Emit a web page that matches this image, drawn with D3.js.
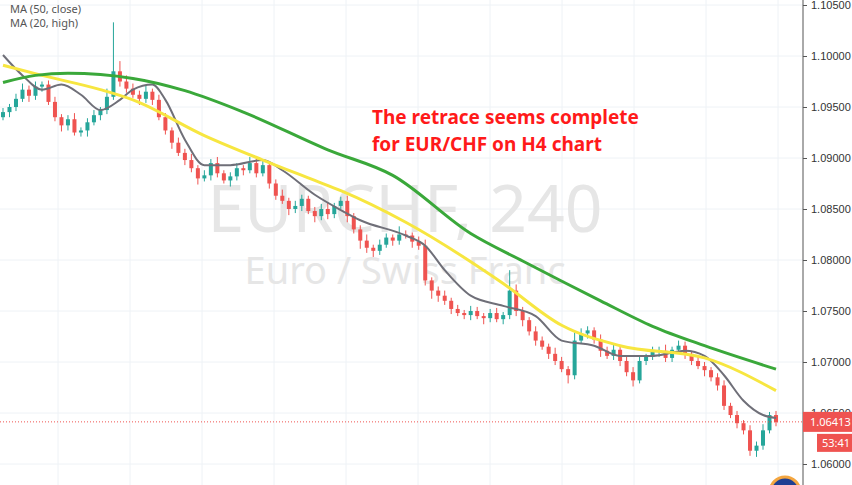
<!DOCTYPE html>
<html><head><meta charset="utf-8">
<script src="https://cdn.jsdelivr.net/npm/d3@7"></script>
<style>body{margin:0;background:#fff;font-family:"Noto Sans",sans-serif}</style>
</head><body>
<script>
// closes of the H4 candles, open = previous close
var firstOpen = 1.0940;
var closes = [
1.0945,1.0950,1.0958,1.0967,1.0961,1.0970,1.0972,1.0955,1.0940,1.0932,
1.0938,1.0925,1.0927,1.0935,1.0942,1.0947,1.0960,1.0985,1.0975,1.0968,
1.0962,1.0958,1.0965,1.0957,1.0940,1.0927,1.0915,1.0905,1.0898,1.0890,
1.0880,1.0883,1.0895,1.0885,1.0878,1.0882,1.0890,1.0888,1.0895,1.0885,
1.0893,1.0875,1.0863,1.0858,1.0850,1.0853,1.0860,1.0848,1.0843,1.0850,
1.0845,1.0853,1.0858,1.0843,1.0830,1.0819,1.0812,1.0809,1.0815,1.0822,
1.0819,1.0825,1.0824,1.0818,1.0814,1.0780,1.0770,1.0765,1.0760,1.0752,
1.0748,1.0746,1.0750,1.0745,1.0743,1.0748,1.0742,1.0746,1.0770,1.0750,
1.0741,1.0730,1.0721,1.0715,1.0708,1.0701,1.0693,1.0687,1.0721,1.0728,
1.0731,1.0722,1.0711,1.0706,1.0712,1.0701,1.0690,1.0682,1.0701,1.0705,
1.0710,1.0711,1.0704,1.0712,1.0716,1.0708,1.0701,1.0696,1.0692,1.0685,
1.0677,1.0657,1.0648,1.0640,1.0633,1.0613,1.0618,1.0633,1.0648,1.0641];
// wick lengths in pips
var upWick = [4,3,5,6,4,5,3,4,5,3, 4,6,3,4,5,3,8,48,10,6, 5,4,6,3,5,4,3,5,4,6, 3,5,4,6,3,4,5,3,6,4,
5,3,4,6,3,5,4,3,4,5, 6,3,4,5,3,4,6,3,5,4, 3,8,4,3,5,6,3,4,5,3, 4,3,5,4,3,4,5,3,20,6,
4,3,5,4,3,6,4,3,8,5, 4,3,5,4,6,3,4,5,4,3, 5,4,6,3,5,4,3,5,4,3, 4,5,3,4,3,5,4,6,3,4];
var dnWick = [3,5,4,3,6,4,5,3,4,6, 5,3,4,6,3,5,4,3,5,4, 3,6,4,5,3,4,6,3,5,4, 6,3,5,4,3,6,4,5,3,4,
3,5,4,3,6,4,5,3,6,4, 5,4,3,6,4,8,5,6,4,3, 5,4,3,6,4,5,8,6,4,5, 3,4,5,3,6,4,3,5,4,5,
6,4,5,3,5,4,3,8,4,3, 5,4,6,3,4,5,4,6,3,4, 3,5,4,4,3,5,4,3,6,4, 5,4,3,5,4,5,6,4,3,4];

// moving averages at candle indices
var maGreenIdx = [0,5,10,20,28,37,50,60,72,80,92,100,108,119];
var maGreen = [1.0974,1.0981,1.0983,1.0978,1.0966,1.0945,1.0908,1.0883,1.0826,1.0799,1.0760,1.0735,1.0716,1.0693];
var maYellowIdx = [0,6,15,20,31,40,48,52,62,77,86,95,108,119];
var maYellow = [1.0991,1.0981,1.0967,1.0957,1.0922,1.0898,1.0878,1.0868,1.0837,1.0777,1.0736,1.0716,1.0704,1.0672];
var maGrayIdx = [0,3,6,9,12,15,18,20,23,25,28,31,35,40,43,48,52,55,62,65,68,72,77,82,86,91,95,100,105,108,111,114,117,119];
var maGray = [1.1001,1.0981,1.0967,1.0972,1.0962,1.0947,1.0957,1.0967,1.0972,1.0957,1.0918,1.0893,1.0893,1.0898,1.0888,1.0864,1.0849,1.0839,1.0824,1.0814,1.0790,1.0765,1.0755,1.0745,1.0721,1.0716,1.0706,1.0706,1.0711,1.0706,1.0687,1.0662,1.0648,1.0645];

var priceTicks = [1.060,1.065,1.070,1.075,1.080,1.085,1.090,1.095,1.100,1.105];
var lastPrice = 1.06413;

var W = 852, H = 485, axisX = 803;
var svg = d3.select("body").append("svg").attr("width", W).attr("height", H);

var y = d3.scaleLinear().domain([1.060, 1.105]).range([464, 5]);
var x = d3.scaleLinear().domain([0, closes.length - 1]).range([3, 776]);

// grid
svg.selectAll(".hg").data(priceTicks).enter().append("line")
  .attr("x1", 0).attr("x2", axisX).attr("y1", function (d) { return y(d); }).attr("y2", function (d) { return y(d); })
  .style("stroke", "#eef2f6");
var vgrid = [58, 130, 202, 274, 346, 418, 490, 562, 634, 706, 778];
svg.selectAll(".vg").data(vgrid).enter().append("line")
  .attr("x1", function (d) { return d; }).attr("x2", function (d) { return d; }).attr("y1", 0).attr("y2", H)
  .style("stroke", "#eef2f6");

// watermark
svg.append("text").attr("x", 405).attr("y", 232).attr("text-anchor", "middle")
  .style("font-size", "66px").style("fill", "#e6e6e6").text("EURCHF, 240");
svg.append("text").attr("x", 405).attr("y", 284).attr("text-anchor", "middle")
  .style("font-size", "38px").style("fill", "#e6e6e6").text("Euro / Swiss Franc");

// candles
var candles = closes.map(function (c, i) {
  var o = i === 0 ? firstOpen : closes[i - 1];
  return { i: i, o: o, c: c, h: Math.max(o, c) + upWick[i] / 10000, l: Math.min(o, c) - dnWick[i] / 10000 };
});
var g = svg.selectAll(".candle").data(candles).enter().append("g");
g.append("line")
  .attr("x1", function (d) { return x(d.i); }).attr("x2", function (d) { return x(d.i); })
  .attr("y1", function (d) { return y(d.h); }).attr("y2", function (d) { return y(d.l); })
  .style("stroke", function (d) { return d.c >= d.o ? "#26a69a" : "#ef5350"; });
g.append("rect")
  .attr("x", function (d) { return x(d.i) - 2; }).attr("width", 4)
  .attr("y", function (d) { return y(Math.max(d.o, d.c)); })
  .attr("height", function (d) { return Math.max(1, Math.abs(y(d.o) - y(d.c))); })
  .style("fill", function (d) { return d.c >= d.o ? "#26a69a" : "#ef5350"; });

// moving averages
function maLine(idx, vals, color, w) {
  var line = d3.line().x(function (d, k) { return x(idx[k]); }).y(function (d) { return y(d); }).curve(d3.curveMonotoneX);
  svg.append("path").datum(vals).attr("d", line).style("fill", "none").style("stroke", color).style("stroke-width", w);
}
maLine(maGrayIdx, maGray, "#6f6f78", 2);
maLine(maYellowIdx, maYellow, "#f7e640", 3);
maLine(maGreenIdx, maGreen, "#3aa83a", 3);

// last price line
svg.append("line").attr("x1", 0).attr("x2", axisX).attr("y1", y(lastPrice)).attr("y2", y(lastPrice))
  .style("stroke", "#ef5350").style("stroke-dasharray", "1,2");

// right axis
svg.append("rect").attr("x", axisX).attr("y", 0).attr("width", W - axisX).attr("height", H).style("fill", "#fff");
svg.append("line").attr("x1", axisX).attr("x2", axisX).attr("y1", 0).attr("y2", H).style("stroke", "#555");
var axis = d3.axisRight(y).tickValues(priceTicks).tickFormat(d3.format(".5f")).tickSize(4);
svg.append("g").attr("transform", "translate(" + axisX + ",0)").call(axis)
  .call(function (a) { a.select(".domain").remove(); a.selectAll("line").style("stroke", "#555"); a.selectAll("text").style("font-size", "11px").style("fill", "#333").attr("x", 8); });

svg.append("rect").attr("x", axisX).attr("y", y(lastPrice) - 10).attr("width", 49).attr("height", 20).style("fill", "#ef5350");
svg.append("text").attr("x", 810).attr("y", y(lastPrice) + 4).style("font-size", "11px").style("fill", "#fff").text("1.06413");
svg.append("rect").attr("x", 817).attr("y", y(lastPrice) + 12).attr("width", 35).attr("height", 18).style("fill", "#ef5350");
svg.append("text").attr("x", 822).attr("y", y(lastPrice) + 25).style("font-size", "11px").style("fill", "#fff").text("53:41");

// legend
svg.append("text").attr("x", 10).attr("y", 13).style("font-size", "11px").style("fill", "#555").text("MA (50, close)");
svg.append("text").attr("x", 10).attr("y", 27).style("font-size", "11px").style("fill", "#555").text("MA (20, high)");

// annotation
svg.selectAll(".note").data(["The retrace seems complete", "for EUR/CHF on H4 chart"]).enter().append("text")
  .attr("x", 372).attr("y", function (d, i) { return 124 + i * 27; })
  .style("font-size", "19px").style("font-weight", "bold").style("fill", "#ff1a1a").text(function (d) { return d; });

// badge bottom right
svg.append("circle").attr("cx", 785).attr("cy", 492).attr("r", 15).style("fill", "#1f3f93").style("stroke", "#f4a640").style("stroke-width", 3);
</script>
</body></html>
